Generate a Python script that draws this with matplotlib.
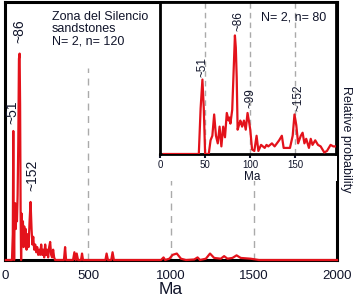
import matplotlib
matplotlib.use("Agg")
import matplotlib.pyplot as plt
from matplotlib.patches import Rectangle

plt.rcParams['font.family'] = ['Liberation Sans', 'DejaVu Sans']

# main curve (age Ma, relative probability)
main_age = [5, 42, 47, 50, 52, 55, 58, 62, 65, 68, 72, 76, 80, 84, 88, 91, 94, 97, 100, 104, 108,
            112, 116, 120, 125, 130, 136, 142, 148, 154, 160, 165, 170, 176, 182, 188, 194, 200,
            206, 212, 218, 224, 230, 236, 242, 248, 254, 260, 266, 272, 278, 284, 290, 296, 302,
            355, 362, 368, 410, 418, 426, 432, 440, 458, 464, 470, 605, 612, 620, 640, 648, 656,
            940, 955, 965, 990, 1010, 1035, 1060, 1090, 1140, 1160, 1175, 1210, 1235, 1260, 1300,
            1320, 1340, 1370, 1395, 1420, 1480, 1530, 2000]
main_val = [0, 0, 0.1, 0.5, 0.15, 0.0, 0.18, 0.22, 0.12, 0.2, 0.15, 0.25, 0.45, 0.78, 0.80, 0.6,
            0.2, 0.0, 0.18, 0.08, 0.15, 0.05, 0.13, 0.06, 0.12, 0.04, 0.10, 0.05, 0.15, 0.225,
            0.12, 0.06, 0.09, 0.04, 0.06, 0.03, 0.05, 0.02, 0.04, 0.02, 0.06, 0.02, 0.04, 0.01,
            0.06, 0.02, 0.04, 0.01, 0.05, 0.07, 0.02, 0.01, 0.04, 0.01, 0, 0, 0.05, 0.0, 0, 0.03,
            0, 0.025, 0, 0.0, 0.025, 0, 0, 0.025, 0, 0, 0.03, 0, 0, 0.01, 0, 0.005, 0.02, 0.025,
            0.005, 0, 0.002, 0.01, 0, 0.005, 0.025, 0.008, 0.005, 0.015, 0.005, 0.008, 0.018,
            0.008, 0.005, 0, 0]

# inset curve
ins_age = [4, 43, 45, 47, 48.5, 50, 54, 56, 58, 60, 62, 64, 66, 68, 70, 72, 74, 76, 77, 78, 80,
           81, 83, 84, 85, 86, 88, 89, 91, 93, 95, 97, 99, 100, 102, 104.5, 107, 109, 112, 116,
           118, 120, 124, 127, 132, 135, 137, 141, 144, 147, 149, 151, 153, 156, 158, 160, 162,
           165, 167, 169, 172, 175, 178, 182, 185, 189, 192, 196]
ins_val = [0, 0, 0.3, 0.49, 0.3, 0, 0, 0.09, 0.12, 0.26, 0.12, 0.07, 0.18, 0.05, 0.18, 0.11,
           0.27, 0.22, 0.24, 0.2, 0.29, 0.45, 0.78, 0.7, 0.5, 0.16, 0.2, 0.22, 0.18, 0.22, 0.16,
           0.27, 0.2, 0.16, 0.03, 0.02, 0.12, 0.02, 0.06, 0.04, 0.06, 0.05, 0.07, 0.05, 0.09,
           0.12, 0.04, 0.04, 0.04, 0.12, 0.26, 0.19, 0.07, 0.12, 0.14, 0.07, 0.1, 0.04, 0.1,
           0.06, 0.09, 0.06, 0.05, 0.01, 0.02, 0.06, 0.05, 0.05]

main_ticks = [0, 500, 1000, 1500, 2000]
main_vlines = [500, 1000, 1500]
ins_ticks = [0, 50, 100, 150]
ins_vlines = [50, 100, 150]

RED = "#e3121b"
TXT = "#10142a"
W, H = 356, 300

fig = plt.figure(figsize=(W / 100, H / 100), dpi=100)

def fx(p):
    return p / W

def fy(p):
    return 1 - p / H

# main axes: px x 5..337, y 2..260
ax = fig.add_axes([fx(5), fy(260), fx(337) - fx(5), fy(2) - fy(260)])
ax.set_xlim(0, 2000)
ax.set_ylim(0, 1)
for v in main_vlines:
    ax.axvline(v, ymax=0.744, color="#aaaaaa", lw=1, ls=(0, (5, 4)), zorder=1)
ax.plot(main_age, main_val, color=RED, lw=1.6, zorder=4, clip_on=False)
for s in ax.spines.values():
    s.set_linewidth(2.2)
    s.set_color("black")
ax.set_yticks([])
ax.set_xticks(main_ticks)
ax.tick_params(axis="x", length=0, pad=7, labelsize=9.5, colors=TXT)
fig.text(fx(171), fy(289), "Ma", fontsize=12.5, color=TXT, ha="center", va="center")

# white area behind inset incl. its labels
fig.patches.append(Rectangle((fx(159), fy(181)), fx(337) - fx(159), fy(2) - fy(181),
                             transform=fig.transFigure, facecolor="white", edgecolor="none",
                             zorder=1.5))

fig.text(fx(52), fy(11), "Zona del Silencio\nsandstones\nN= 2, n= 120",
         fontsize=9, color=TXT, va="top", ha="left", linespacing=1.05)

def lab(x, y, s, fs):
    fig.text(fx(x), fy(y), s, rotation=90, fontsize=fs, color=TXT,
             ha="center", va="center", zorder=10)

lab(19, 31, "~86", 10)
lab(12, 112, "~51", 10)
lab(32, 175, "~152", 10)

fig.text(fx(346), fy(139), "Relative probability", rotation=270, fontsize=9,
         color=TXT, ha="center", va="center")

# inset: px x 160..336, y 2..154
ia = fig.add_axes([fx(160), fy(154), fx(336) - fx(160), fy(2) - fy(154)])
ia.set_zorder(5)
ia.set_xlim(0, 195)
ia.set_ylim(0, 1)
for v in ins_vlines:
    ia.axvline(v, color="#aaaaaa", lw=1, ls=(0, (4, 3)), zorder=1)
ia.plot(ins_age, ins_val, color=RED, lw=1.6, zorder=4)
for s in ia.spines.values():
    s.set_linewidth(2)
    s.set_color("black")
ia.set_yticks([])
ia.set_xticks(ins_ticks)
ia.tick_params(axis="x", length=3, width=1.5, pad=1, labelsize=7, colors=TXT)
fig.text(fx(252), fy(177), "Ma", fontsize=8.5, color=TXT, ha="center", va="center", zorder=10)
fig.text(fx(294), fy(18), "N= 2, n= 80", fontsize=9, color=TXT, ha="center", va="center",
         zorder=10)

lab(202, 67, "~51", 8.5)
lab(238, 21, "~86", 8.5)
lab(251, 98, "~99", 8.5)
lab(298, 98, "~152", 8.5)

fig.savefig("out.png", dpi=100)
